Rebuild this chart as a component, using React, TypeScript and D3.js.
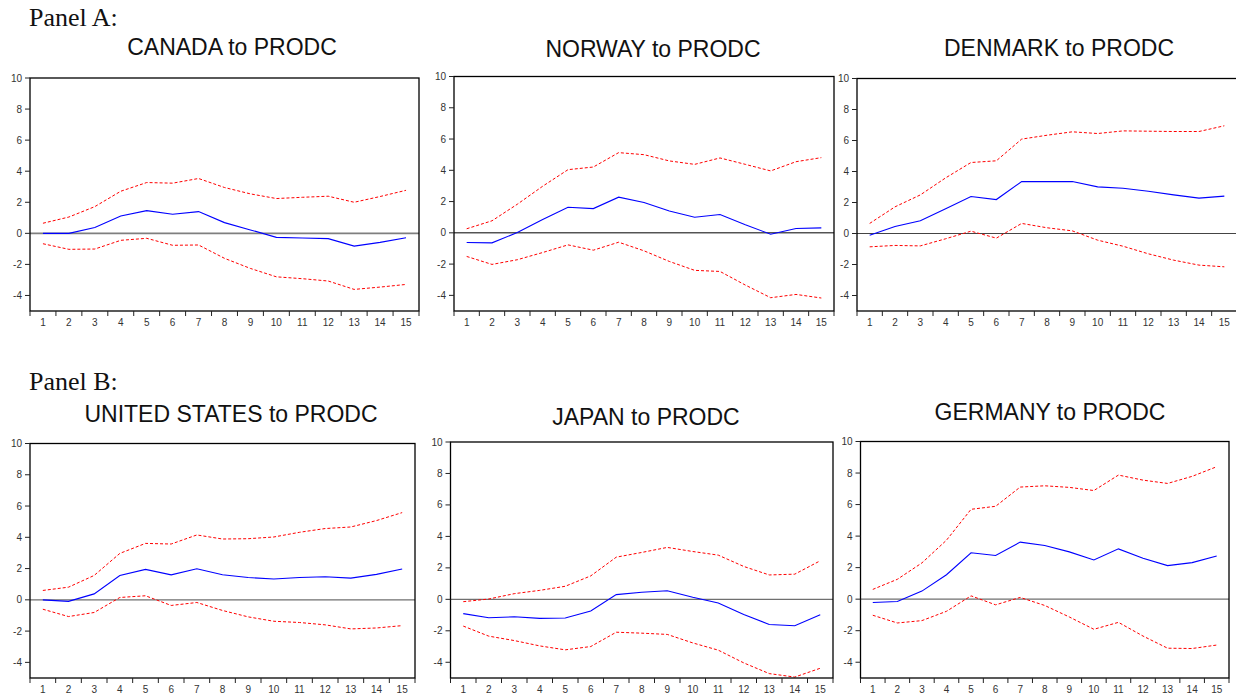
import React from "react";
import * as d3 from "d3";

// horizon (periods) and y ticks
const periods = [1, 2, 3, 4, 5, 6, 7, 8, 9, 10, 11, 12, 13, 14, 15];
const yTicks = [-4, -2, 0, 2, 4, 6, 8, 10];
const titles = [
  "CANADA to PRODC",
  "NORWAY to PRODC",
  "DENMARK to PRODC",
  "UNITED STATES to PRODC",
  "JAPAN to PRODC",
  "GERMANY to PRODC",
];

// responses (blue) and +/- 2 s.e. bands (red dashed)
const canadaIrf = [0, 0, 0.37, 1.12, 1.46, 1.23, 1.4, 0.69, 0.22, -0.26, -0.3, -0.34, -0.82, -0.58, -0.28];
const canadaUpper = [0.65, 1.05, 1.72, 2.71, 3.27, 3.23, 3.53, 2.95, 2.54, 2.24, 2.32, 2.39, 2.0, 2.37, 2.77];
const canadaLower = [-0.67, -1.03, -1.01, -0.45, -0.32, -0.77, -0.75, -1.61, -2.26, -2.8, -2.92, -3.07, -3.61, -3.46, -3.29];

const norwayIrf = [-0.62, -0.64, 0.02, 0.85, 1.64, 1.55, 2.28, 1.94, 1.4, 1.0, 1.17, 0.51, -0.09, 0.28, 0.32];
const norwayUpper = [0.26, 0.77, 1.83, 2.98, 4.04, 4.21, 5.13, 5.0, 4.6, 4.38, 4.79, 4.38, 3.96, 4.55, 4.81];
const norwayLower = [-1.51, -2.02, -1.72, -1.26, -0.77, -1.11, -0.6, -1.15, -1.83, -2.4, -2.47, -3.34, -4.15, -3.94, -4.17];

const denmarkIrf = [-0.11, 0.45, 0.82, 1.59, 2.39, 2.19, 3.35, 3.35, 3.35, 3.01, 2.92, 2.73, 2.49, 2.28, 2.41];
const denmarkUpper = [0.65, 1.72, 2.49, 3.59, 4.58, 4.69, 6.09, 6.34, 6.56, 6.45, 6.62, 6.6, 6.58, 6.58, 6.95];
const denmarkLower = [-0.86, -0.77, -0.8, -0.34, 0.15, -0.3, 0.65, 0.37, 0.17, -0.43, -0.82, -1.31, -1.72, -2.04, -2.15];

const usIrf = [0, -0.1, 0.38, 1.56, 1.95, 1.6, 1.99, 1.6, 1.43, 1.33, 1.43, 1.48, 1.39, 1.63, 1.97];
const usUpper = [0.6, 0.81, 1.56, 2.97, 3.61, 3.57, 4.15, 3.89, 3.91, 4.02, 4.32, 4.56, 4.66, 5.07, 5.58];
const usLower = [-0.6, -1.07, -0.81, 0.15, 0.26, -0.36, -0.17, -0.68, -1.09, -1.37, -1.45, -1.6, -1.86, -1.8, -1.65];

const japanIrf = [-0.91, -1.17, -1.11, -1.21, -1.19, -0.74, 0.3, 0.45, 0.55, 0.13, -0.23, -0.96, -1.6, -1.68, -0.98];
const japanUpper = [-0.15, 0.02, 0.36, 0.57, 0.83, 1.49, 2.68, 2.98, 3.3, 3.04, 2.81, 2.09, 1.55, 1.6, 2.45];
const japanLower = [-1.7, -2.34, -2.62, -2.96, -3.21, -3.0, -2.09, -2.15, -2.23, -2.77, -3.23, -4.04, -4.72, -4.94, -4.38];

const germanyIrf = [-0.21, -0.15, 0.51, 1.55, 2.94, 2.77, 3.62, 3.4, 3.0, 2.49, 3.19, 2.6, 2.13, 2.32, 2.74];
const germanyUpper = [0.62, 1.26, 2.3, 3.74, 5.7, 5.89, 7.11, 7.19, 7.09, 6.89, 7.87, 7.55, 7.34, 7.79, 8.4];
const germanyLower = [-1.02, -1.51, -1.36, -0.77, 0.21, -0.36, 0.11, -0.4, -1.13, -1.91, -1.47, -2.34, -3.11, -3.13, -2.91];

const series = [
  [canadaIrf, canadaUpper, canadaLower],
  [norwayIrf, norwayUpper, norwayLower],
  [denmarkIrf, denmarkUpper, denmarkLower],
  [usIrf, usUpper, usLower],
  [japanIrf, japanUpper, japanLower],
  [germanyIrf, germanyUpper, germanyLower],
];

// frame of each small chart on the page
const frames = [
  { l: 30, r: 419, t: 78, b: 311, tx: 232, ty: 55, zero: "#7f7f7f", zw: 1.6 },
  { l: 454, r: 834, t: 76.5, b: 311, tx: 653, ty: 56.5, zero: "#000", zw: 1 },
  { l: 857, r: 1237, t: 78.5, b: 311, tx: 1059, ty: 56, zero: "#444", zw: 1.2 },
  { l: 30, r: 415, t: 443.5, b: 678, tx: 231, ty: 422, zero: "#6f6f6f", zw: 1.4 },
  { l: 450.5, r: 833, t: 442, b: 678, tx: 646, ty: 425, zero: "#6f6f6f", zw: 1.4 },
  { l: 860.5, r: 1229, t: 441.5, b: 678, tx: 1050, ty: 420, zero: "#6f6f6f", zw: 1.4 },
];

const Panel = ({ f, title, data }) => {
  const x = d3.scaleLinear().domain([0.5, 15.5]).range([f.l, f.r]);
  const y = d3.scaleLinear().domain([-5, 10]).range([f.b, f.t]);
  const line = d3.line<number>().x((d, i) => x(periods[i])).y(d => y(d));
  const [irf, upper, lower] = data;
  const halfTicks = d3.range(0.5, 16, 1);

  return (
    <g>
      <text x={f.tx} y={f.ty} textAnchor="middle" fontFamily="Arial, 'Liberation Sans', sans-serif" fontSize={23} fill="#111">
        {title}
      </text>
      <line x1={f.l} x2={f.r} y1={y(0)} y2={y(0)} stroke={f.zero} strokeWidth={f.zw} />
      <path d={line(upper)} fill="none" stroke="#ff0000" strokeWidth={1} strokeDasharray="3,2" />
      <path d={line(lower)} fill="none" stroke="#ff0000" strokeWidth={1} strokeDasharray="3,2" />
      <path d={line(irf)} fill="none" stroke="#0000ff" strokeWidth={1.1} />
      <rect x={f.l} y={f.t} width={f.r - f.l} height={f.b - f.t} fill="none" stroke="#000" strokeWidth={1.3} />
      {yTicks.map(t => (
        <g key={t}>
          <line x1={f.l - 5} x2={f.l} y1={y(t)} y2={y(t)} stroke="#222" />
          <text x={f.l - 8} y={y(t) + 3.5} textAnchor="end" fontFamily="Arial, 'Liberation Sans', sans-serif" fontSize={10} fill="#333">
            {t}
          </text>
        </g>
      ))}
      {halfTicks.map(t => (
        <line key={t} x1={x(t)} x2={x(t)} y1={f.b} y2={f.b + 5} stroke="#222" />
      ))}
      {periods.map(p => (
        <text key={p} x={x(p)} y={f.b + 14.5} textAnchor="middle" fontFamily="Arial, 'Liberation Sans', sans-serif" fontSize={10} fill="#333">
          {p}
        </text>
      ))}
    </g>
  );
};

export default function App() {
  return (
    <svg width={1236} height={698} style={{ position: "absolute", left: 0, top: 0, background: "#fff" }}>
      <rect width={1236} height={698} fill="#fff" />
      <text x={29} y={26} fontFamily="'Times New Roman', 'Liberation Serif', serif" fontSize={26} fill="#111">Panel A:</text>
      <text x={29} y={390} fontFamily="'Times New Roman', 'Liberation Serif', serif" fontSize={26} fill="#111">Panel B:</text>
      {frames.map((f, i) => (
        <Panel key={i} f={f} title={titles[i]} data={series[i]} />
      ))}
    </svg>
  );
}
